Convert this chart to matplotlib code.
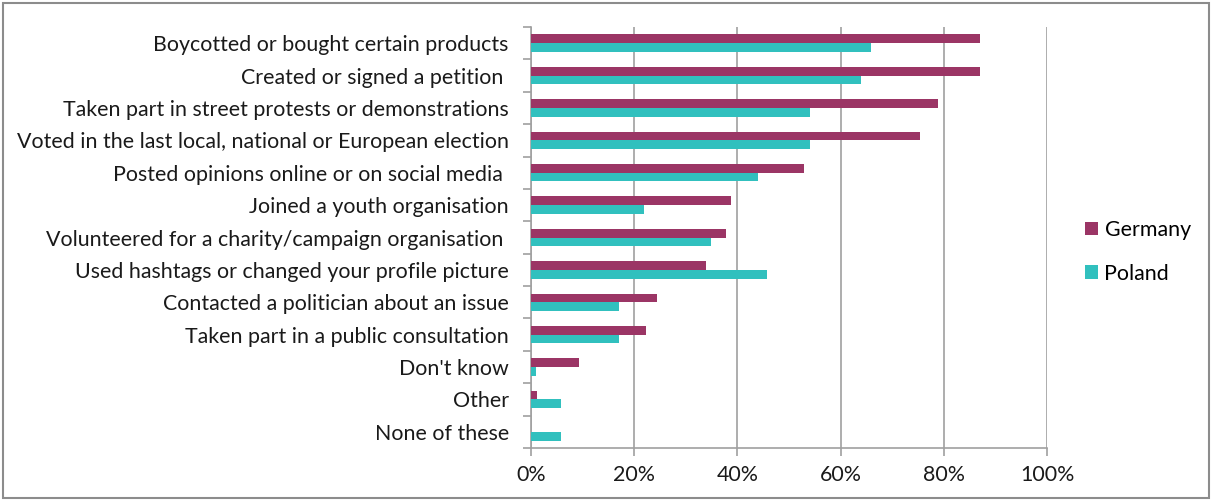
''' Civic participation by country: horizontal grouped bar chart '''
import matplotlib.pyplot as plt
import numpy as np
from matplotlib.patches import Rectangle
from matplotlib.ticker import PercentFormatter

categories = [
    'Boycotted or bought certain products',
    'Created or signed a petition ',
    'Taken part in street protests or demonstrations',
    'Voted in the last local, national or European election',
    'Posted opinions online or on social media ',
    'Joined a youth organisation',
    'Volunteered for a charity/campaign organisation ',
    'Used hashtags or changed your profile picture',
    'Contacted a politician about an issue',
    'Taken part in a public consultation',
    "Don't know",
    'Other',
    'None of these',
]
germany = [87.0, 87.0, 78.8, 75.3, 53.0, 38.8, 37.7, 34.0, 24.5, 22.2, 9.3, 1.1, 0.0]
poland = [65.8, 63.9, 54.0, 54.0, 43.9, 21.9, 34.9, 45.8, 17.0, 17.0, 0.9, 5.8, 5.8]

GERMANY_COLOR = '#9b3565'
POLAND_COLOR = '#31c0be'
GRID_COLOR = '#a0a0a0'
TEXT_SIZE = 15.4

plt.rcParams['font.family'] = ['Lato', 'DejaVu Sans']

fig = plt.figure(figsize=(12.12, 5.01), dpi=100)
ax = fig.add_axes([531 / 1212, 1 - 448 / 501, 516 / 1212, (448 - 27) / 501])

y = np.arange(len(categories))
h = 0.27
ax.barh(y - h / 2, germany, height=h, color=GERMANY_COLOR, label='Germany', zorder=3)
ax.barh(y + h / 2, poland, height=h, color=POLAND_COLOR, label='Poland', zorder=3)

ax.set_xlim(0, 100)
ax.set_ylim(len(categories) - 0.5, -0.5)
ax.xaxis.set_major_locator(plt.MultipleLocator(20))
ax.xaxis.set_major_formatter(PercentFormatter(decimals=0))
ax.grid(axis='x', color=GRID_COLOR, lw=1.2, zorder=0)

# category labels at the centres, tick marks on the boundaries
ax.set_yticks(y)
ax.set_yticklabels(categories)
ax.set_yticks(np.arange(len(categories) + 1) - 0.5, minor=True)
ax.tick_params(axis='y', which='major', length=0, pad=16, labelsize=TEXT_SIZE,
               labelcolor='#1a1a1a')
ax.tick_params(axis='y', which='minor', length=6, width=1.2, color=GRID_COLOR)
ax.tick_params(axis='x', length=6, width=1.2, color=GRID_COLOR, pad=6,
               labelsize=TEXT_SIZE, labelcolor='#1a1a1a')

for side in ('top', 'right'):
    ax.spines[side].set_visible(False)
for side in ('left', 'bottom'):
    ax.spines[side].set_color(GRID_COLOR)
    ax.spines[side].set_linewidth(1.2)

fig.legend(loc='center left', bbox_to_anchor=(1066 / 1212, 1 - 252 / 501),
           frameon=False, fontsize=TEXT_SIZE, handlelength=0.6, handleheight=0.6,
           handletextpad=0.3, labelspacing=1.1)

# grey frame around the whole chart
fig.patches.append(Rectangle((3 / 1212, 3 / 501), 1 - 6 / 1212, 1 - 6 / 501,
                             transform=fig.transFigure, fill=False,
                             ec='#8c8c8c', lw=1.5))

fig.savefig('out.png', dpi=100)
